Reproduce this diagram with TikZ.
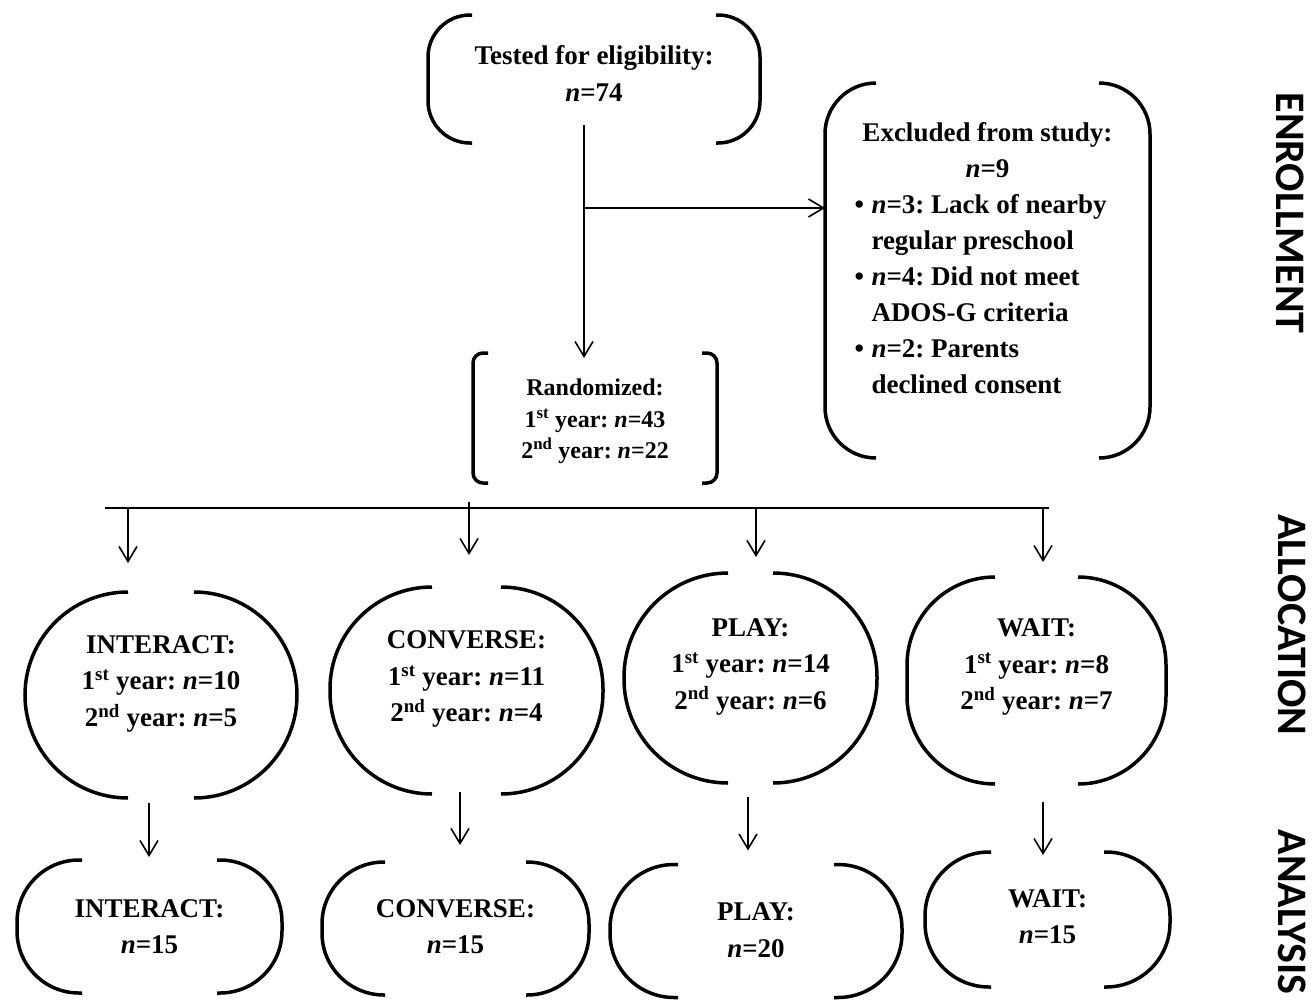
\documentclass[tikz,border=0pt]{standalone}
\usepackage{fontspec}
\setmainfont{Liberation Serif}
\newfontfamily\sidefont{Carlito}
\usetikzlibrary{arrows.meta}
\frenchspacing

\tikzset{
	boxframe/.style={rectangle, inner sep=0pt, outer sep=0pt},
	boxtext/.style={align=center, inner sep=0pt, font=\bfseries\fontsize{27}{36.5}\selectfont},
	bracket/.style={line width=3.5pt},
	conn/.style={line width=1.6pt, -{Straight Barb[length=15pt, width=18pt]}},
	busline/.style={line width=1.4pt},
	sidelabel/.style={rotate=-90, inner sep=0pt, font=\sidefont\bfseries\fontsize{42}{42}\selectfont}
}

\newcommand{\gapbox}[9]{
% Each box is only two brackets, one left and one right,
% so the top and the bottom stay open for the arrows:
% #1 name, (#2, #3) centre, #4 x #5 size, #6 arm of a bracket,
% #7 radius of its corners, #8 options of the text, #9 the text
	\node[boxframe, minimum width=#4, minimum height=#5] (#1) at (#2, #3) {};
	\node[boxtext, #8] (#1-t) at (#1.center) {#9};
	\draw[bracket, rounded corners=#7] ([xshift=#6]#1.north west) -- (#1.north west)
		-- (#1.south west) -- ([xshift=#6]#1.south west);
	\draw[bracket, rounded corners=#7] ([xshift=-#6]#1.north east) -- (#1.north east)
		-- (#1.south east) -- ([xshift=-#6]#1.south east);
}
% one line of the list of exclusions, all of them start at the same left edge
\newcommand{\exitem}[1]{\makebox[266pt][l]{#1}}

\begin{document}
\begin{tikzpicture}[x=1pt, y=-1pt]
\useasboundingbox (0,0) rectangle (1312,999);

% enrollment
\gapbox{tested}{594}{79}{332pt}{128pt}{44pt}{42pt}{yshift=5.5pt}
	{Tested for eligibility:\\ \textit{n}=74}
\gapbox{excl}{987.5}{270.5}{325pt}{375pt}{51pt}{51pt}{yshift=12pt, font=\bfseries\fontsize{27}{36}\selectfont}
	{Excluded from study:\\ \textit{n}=9\\
	\exitem{\makebox[17pt][l]{\textbullet}\textit{n}=3: Lack of nearby}\\
	\exitem{\hspace*{17pt}regular preschool}\\
	\exitem{\makebox[17pt][l]{\textbullet}\textit{n}=4: Did not meet}\\
	\exitem{\hspace*{17pt}ADOS-G criteria}\\
	\exitem{\makebox[17pt][l]{\textbullet}\textit{n}=2: Parents}\\
	\exitem{\hspace*{17pt}declined consent}}
\gapbox{rand}{595}{418}{244pt}{130pt}{15pt}{10pt}{yshift=-3.5pt, font=\bfseries\fontsize{24}{31.5}\selectfont}
	{Randomized:\\ 1\textsuperscript{st} year: \textit{n}=43\\ 2\textsuperscript{nd} year: \textit{n}=22}

% allocation
\gapbox{ia}{161}{695}{272pt}{206pt}{103pt}{103pt}{yshift=11.5pt}
	{INTERACT:\\ 1\textsuperscript{st} year: \textit{n}=10\\ 2\textsuperscript{nd} year: \textit{n}=5}
\gapbox{ca}{466.5}{690.5}{273pt}{207pt}{102pt}{102pt}{yshift=11.5pt}
	{CONVERSE:\\ 1\textsuperscript{st} year: \textit{n}=11\\ 2\textsuperscript{nd} year: \textit{n}=4}
\gapbox{pa}{750.5}{678}{253pt}{210pt}{104pt}{104pt}{yshift=11.5pt}
	{PLAY:\\ 1\textsuperscript{st} year: \textit{n}=14\\ 2\textsuperscript{nd} year: \textit{n}=6}
\gapbox{wa}{1036.5}{680.5}{259pt}{207pt}{88pt}{88pt}{yshift=13.5pt}
	{WAIT:\\ 1\textsuperscript{st} year: \textit{n}=8\\ 2\textsuperscript{nd} year: \textit{n}=7}

% analysis
\gapbox{ib}{149.5}{926.5}{265pt}{133pt}{65pt}{62pt}{yshift=0pt}{INTERACT:\\ \textit{n}=15}
\gapbox{cb}{455.5}{928.5}{267pt}{133pt}{63pt}{62pt}{yshift=2pt}{CONVERSE:\\ \textit{n}=15}
\gapbox{pb}{756}{931}{292pt}{133pt}{68pt}{64pt}{yshift=1pt}{PLAY:\\ \textit{n}=20}
\gapbox{wb}{1047.5}{919.5}{245pt}{135pt}{66pt}{64pt}{yshift=3pt}{WAIT:\\ \textit{n}=15}

% arrows
\draw[conn] ([xshift=-10pt, yshift=18pt]tested.south) -- ([xshift=-11pt, yshift=-5pt]rand.north);
\coordinate (split) at (584,208);
\draw[conn] (split) -- (split -| excl.west);

\coordinate (bus-l) at (105,508);
\coordinate (bus-r) at (1049,508);
\draw[busline] (bus-l) -- (bus-r);
\foreach \n/\dx/\ys/\ye in {ia/-33/84/29, ca/2.5/85/32, pa/5.5/65/16, wa/6.5/69/15}
	\draw[conn] ([xshift=\dx pt, yshift=\ys pt]\n.north) -- ([xshift=\dx pt, yshift=\ye pt]\n.north);

\foreach \a/\b/\sx/\sy/\ex/\ey in {ia/ib/-12/-5/-0.5/3, ca/cb/-6.5/2/4.5/17,
		pa/pb/-2.5/-14/-8/14, wa/wb/6.5/-18/-4.5/-3}
	\draw[conn] ([xshift=\sx pt, yshift=\sy pt]\a.south) -- ([xshift=\ex pt, yshift=\ey pt]\b.north);

% phases on the right
\node[sidelabel] (enroll) at (1290,213) {ENROLLMENT};
\node[sidelabel] (alloc) at (1292,625) {ALLOCATION};
\node[sidelabel] (analysis) at (1292,912) {ANALYSIS};
\end{tikzpicture}
\end{document}
